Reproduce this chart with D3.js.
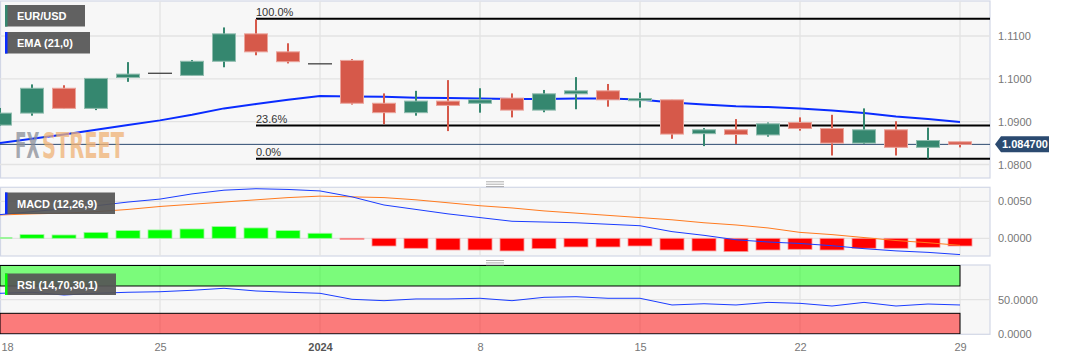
<!DOCTYPE html>
<html><head><meta charset="utf-8">
<script src="https://cdn.jsdelivr.net/npm/d3@7"></script>
<style>
html,body{margin:0;padding:0;background:#fff;}
svg{display:block;font-family:"Liberation Sans",Arial,sans-serif;}
</style></head>
<body><svg id="c" width="1067" height="360"></svg>
<script>
const dates = ["2023-12-18","2023-12-19","2023-12-20","2023-12-21","2023-12-22","2023-12-25","2023-12-26","2023-12-27","2023-12-28","2023-12-29",
"2024-01-01","2024-01-02","2024-01-03","2024-01-04","2024-01-05","2024-01-08","2024-01-09","2024-01-10","2024-01-11","2024-01-12",
"2024-01-15","2024-01-16","2024-01-17","2024-01-18","2024-01-19","2024-01-22","2024-01-23","2024-01-24","2024-01-25","2024-01-26","2024-01-29"];
const open  = [1.0892,1.0920,1.0978,1.0931,1.1003,1.1013,1.1008,1.1041,1.1105,1.1063,1.1035,1.1043,1.0943,1.0921,1.0948,1.0943,1.0955,1.0927,1.0965,1.0972,1.0949,1.0951,1.0872,1.0881,1.0869,1.0898,1.0884,1.0850,1.0881,1.0840,1.0853];
const high  = [1.0932,1.0987,1.0985,1.1001,1.1039,1.1013,1.1044,1.1120,1.1139,1.1083,1.1035,1.1046,1.0966,1.0972,1.0997,1.0978,1.0966,1.0974,1.1004,1.0988,1.0968,1.0951,1.0885,1.0906,1.0898,1.0910,1.0916,1.0931,1.0901,1.0886,1.0853];
const low   = [1.0890,1.0914,1.0930,1.0927,1.0993,1.1013,1.1008,1.1027,1.1055,1.1036,1.1035,1.0940,1.0894,1.0914,1.0878,1.0921,1.0910,1.0922,1.0929,1.0935,1.0933,1.0860,1.0843,1.0848,1.0865,1.0879,1.0821,1.0848,1.0821,1.0814,1.0840];
const close = [1.0920,1.0978,1.0931,1.1001,1.1011,1.1013,1.1041,1.1105,1.1063,1.1040,1.1035,1.0943,1.0921,1.0948,1.0938,1.0951,1.0927,1.0965,1.0972,1.0951,1.0954,1.0871,1.0881,1.0870,1.0895,1.0884,1.0850,1.0881,1.0840,1.0856,1.0847];
const ema21 = [1.0850,1.0860,1.0870,1.0881,1.0892,1.0903,1.0916,1.0931,1.0941,1.0951,1.0960,1.0959,1.0958,1.0956,1.0955,1.0954,1.0953,1.0953,1.0954,1.0954,1.0952,1.0945,1.0940,1.0936,1.0934,1.0931,1.0926,1.0920,1.0912,1.0906,1.0899];
const macdLine = [0.0032,0.0036,0.0040,0.0044,0.0049,0.0053,0.0060,0.0065,0.0067,0.0066,0.0064,0.0056,0.0045,0.0039,0.0033,0.0028,0.0023,0.0022,0.0021,0.0019,0.0017,0.0009,0.0004,-0.0002,-0.0005,-0.0007,-0.0010,-0.0014,-0.0017,-0.0019,-0.0022];
const signalLine = [0.00315,0.0033,0.0034,0.0036,0.0039,0.0043,0.0046,0.0049,0.0052,0.0055,0.0057,0.0056,0.0055,0.0052,0.0048,0.0044,0.0041,0.0037,0.0034,0.0031,0.0028,0.0025,0.0021,0.0018,0.0014,0.0008,0.0005,0.0001,-0.0003,-0.0006,-0.00095];
const macdHist = [0.0001,0.0005,0.00045,0.0008,0.00104,0.00113,0.00126,0.00158,0.0014,0.00104,0.00068,-0.00014,-0.00104,-0.00135,-0.00158,-0.00158,-0.00171,-0.0014,-0.00117,-0.00117,-0.00104,-0.00158,-0.00171,-0.0018,-0.00158,-0.00149,-0.00158,-0.00135,-0.00135,-0.00122,-0.00104];
const rsi = [59.3,60.8,56.8,59.3,60.8,61.6,63.7,66.6,62.7,60.8,59.3,50.5,48.5,51,51,52,48.5,53.4,54.3,52,52,42.2,44,42.2,46,44.6,40.7,46,40.7,43.6,42.2];
const xTickDates = ["2023-12-18","2023-12-25","2024-01-01","2024-01-08","2024-01-15","2024-01-22","2024-01-29"];
const xTickLabels = ["18","25","2024","8","15","22","29"];
const priceTicks = [1.08,1.09,1.10,1.11];
const macdTicks = [0,0.005];
const rsiTicks = [0,50];
const fibLevels = [1.1140,1.0891,1.08135];
const fibLabels = ["100.0%","23.6%","0.0%"];
const fibStart = "2023-12-28";
const lastPrice = 1.0847;
const legends = ["EUR/USD","EMA (21,0)","MACD (12,26,9)","RSI (14,70,30,1)"];

const svg = d3.select("#c");
const W = 990;
const x = d3.scalePoint().domain(dates).range([0,960]);
const yP = d3.scaleLinear().domain([1.08,1.11]).range([164.5,36]);
const yM = d3.scaleLinear().domain([0,0.005]).range([238.3,201.3]);
const yR = d3.scaleLinear().domain([0,100]).range([333.8,265.5]);

const panels = [
  {id:"p0", top:1, bottom:178},
  {id:"p1", top:187.3, bottom:256},
  {id:"p2", top:265, bottom:334.3}
];
const defs = svg.append("defs");
panels.forEach(p=>{
  defs.append("clipPath").attr("id","clip-"+p.id).append("rect")
    .attr("x",0).attr("y",p.top).attr("width",W).attr("height",p.bottom-p.top);
  svg.append("rect").attr("x",0.5).attr("y",p.top).attr("width",W-0.5).attr("height",p.bottom-p.top)
    .attr("fill","#f7f7f7").attr("stroke","#d2d7e6").attr("stroke-width",1.2);
});
const gMain = svg.append("g").attr("clip-path","url(#clip-p0)");
const gMacd = svg.append("g").attr("clip-path","url(#clip-p1)");
const gRsi = svg.append("g").attr("clip-path","url(#clip-p2)");

// vertical gridlines
[[gMain,panels[0]],[gMacd,panels[1]],[gRsi,panels[2]]].forEach(([g,p])=>{
  g.selectAll(".vg").data(xTickDates.slice(1)).enter().append("line")
   .attr("x1",d=>x(d)).attr("x2",d=>x(d)).attr("y1",p.top).attr("y2",p.bottom)
   .attr("stroke","#e3e3e3").attr("stroke-width",1.3);
});
// horizontal gridlines
gMain.selectAll(".hg").data(priceTicks).enter().append("line")
  .attr("x1",0).attr("x2",W).attr("y1",d=>yP(d)).attr("y2",d=>yP(d)).attr("stroke","#e3e3e3").attr("stroke-width",1.3);
gMacd.selectAll(".hg").data(macdTicks).enter().append("line")
  .attr("x1",0).attr("x2",W).attr("y1",d=>yM(d)).attr("y2",d=>yM(d)).attr("stroke","#e3e3e3").attr("stroke-width",1.3);
gRsi.selectAll(".hg").data([50]).enter().append("line")
  .attr("x1",0).attr("x2",W).attr("y1",d=>yR(d)).attr("y2",d=>yR(d)).attr("stroke","#e3e3e3").attr("stroke-width",1.3);

// watermark: two words scaled into place
function wmWord(txt, fill, x0, x1){
  const t = svg.append("text").attr("x",0).attr("y",0).attr("font-size",36).attr("font-weight","bold")
    .attr("font-family","'DejaVu Sans Condensed','DejaVu Sans',sans-serif").attr("fill",fill).attr("opacity",0.75).text(txt);
  const w = t.node().getComputedTextLength();
  t.attr("transform",`translate(${x0},158) scale(${(x1-x0)/w},1)`);
}
wmWord("FX","#8a8e98",15,39.5);
wmWord("STREET","#f0b275",42,124);

// fib lines
gMain.selectAll(".fib").data(fibLevels).enter().append("line")
  .attr("x1",x(fibStart)).attr("x2",W).attr("y1",d=>yP(d)).attr("y2",d=>yP(d))
  .attr("stroke","#000").attr("stroke-width",2);
svg.selectAll(".fibt").data(fibLevels).enter().append("text")
  .attr("x",x(fibStart)).attr("y",d=>yP(d)-3).attr("font-size",11).attr("fill","#333")
  .text((d,i)=>fibLabels[i]);

// last price line
gMain.append("line").attr("x1",0).attr("x2",W).attr("y1",yP(lastPrice)).attr("y2",yP(lastPrice))
  .attr("stroke","#2b4a70").attr("stroke-width",1);

// EMA
gMain.append("path").datum(ema21).attr("fill","none").attr("stroke","#0a2cff").attr("stroke-width",2)
  .attr("d",d3.line().x((d,i)=>x(dates[i])).y(d=>yP(d)));

// candles
const green="#35876f", red="#d6594a";
const cg = gMain.selectAll(".cdl").data(dates).enter().append("g");
cg.each(function(d,i){
  const g=d3.select(this), cx=x(d);
  const o=open[i],c=close[i],h=high[i],l=low[i];
  if(o===c && h===l){
    g.append("line").attr("x1",cx-12).attr("x2",cx+12).attr("y1",yP(o)).attr("y2",yP(o)).attr("stroke","#333").attr("stroke-width",1.2);
    return;
  }
  const col = c>=o?green:red;
  const lite = c>=o?"#8fbcae":"#eba39a";
  g.append("rect").attr("x",cx-1).attr("width",2).attr("y",yP(h)).attr("height",Math.max(1,yP(l)-yP(h))).attr("fill",col);
  const top=yP(Math.max(o,c)), bot=yP(Math.min(o,c));
  g.append("rect").attr("x",cx-11.5).attr("width",23).attr("y",top).attr("height",Math.max(2,bot-top))
    .attr("fill",col).attr("stroke",lite).attr("stroke-width",1);
});

// MACD histogram
gMacd.selectAll(".hb").data(macdHist).enter().append("rect")
  .attr("x",(d,i)=>x(dates[i])-12).attr("width",24)
  .attr("y",d=>Math.min(yM(d),yM(0))).attr("height",d=>Math.max(0.8,Math.abs(yM(d)-yM(0))))
  .attr("fill",d=>d>=0?"#00ff00":"#ff0000").attr("stroke",d=>d>=0?"#9ff59f":"#f89a9a").attr("stroke-width",0.8);
gMacd.append("path").datum(signalLine).attr("fill","none").attr("stroke","#ff7a1f").attr("stroke-width",1)
  .attr("d",d3.line().x((d,i)=>x(dates[i])).y(d=>yM(d)));
gMacd.append("path").datum(macdLine).attr("fill","none").attr("stroke","#1a3cff").attr("stroke-width",1)
  .attr("d",d3.line().x((d,i)=>x(dates[i])).y(d=>yM(d)));

// RSI bands
const xLast = x(dates[dates.length-1]);
gRsi.append("rect").attr("x",0).attr("width",xLast).attr("y",yR(100)).attr("height",yR(70)-yR(100))
  .attr("fill","#00ff00").attr("fill-opacity",0.5).attr("stroke","#000").attr("stroke-width",1);
gRsi.append("rect").attr("x",0).attr("width",xLast).attr("y",yR(30)).attr("height",yR(0)-yR(30))
  .attr("fill","#ff0000").attr("fill-opacity",0.5).attr("stroke","#000").attr("stroke-width",1);
gRsi.append("path").datum(rsi).attr("fill","none").attr("stroke","#1a3cff").attr("stroke-width",1)
  .attr("d",d3.line().x((d,i)=>x(dates[i])).y(d=>yR(d)));

// axes
function styleAxis(g){ g.select(".domain").remove(); g.selectAll("text").attr("fill","#777").attr("font-size",11).attr("font-family","'Liberation Sans',Arial,sans-serif"); }
svg.append("g").attr("transform",`translate(${W},0)`)
  .call(d3.axisRight(yP).tickValues(priceTicks).tickFormat(d3.format(".4f")).tickSize(0).tickPadding(8)).call(styleAxis);
svg.append("g").attr("transform",`translate(${W},0)`)
  .call(d3.axisRight(yM).tickValues(macdTicks).tickFormat(d3.format(".4f")).tickSize(0).tickPadding(8)).call(styleAxis);
svg.append("g").attr("transform",`translate(${W},0)`)
  .call(d3.axisRight(yR).tickValues(rsiTicks).tickFormat(d3.format(".4f")).tickSize(0).tickPadding(8)).call(styleAxis);
const xa = svg.append("g").attr("transform","translate(0,337)")
  .call(d3.axisBottom(x).tickValues(xTickDates).tickFormat((d,i)=>xTickLabels[i]).tickSize(0).tickPadding(6)).call(styleAxis);
xa.selectAll("text").filter(d=>d===xTickDates[0]).attr("text-anchor","start").attr("x",1);
xa.selectAll("text").filter(d=>d==="2024-01-01").attr("font-weight","bold").attr("fill","#555");

// last price tag
const ly = yP(lastPrice);
svg.append("path").attr("d",`M995,${ly} L1001,${ly-8} L1049,${ly-8} L1049,${ly+8} L1001,${ly+8} Z`).attr("fill","#2b4a70");
svg.append("text").attr("x",1002).attr("y",ly+4).attr("font-size",11).attr("font-weight","bold").attr("fill","#fff")
  .text(d3.format(".6f")(lastPrice));

// grips
[183.3,262].forEach(gy=>{
  [0,2,4].forEach(k=>svg.append("line").attr("x1",486).attr("x2",504).attr("y1",gy-1.5+k*1.2).attr("y2",gy-1.5+k*1.2).attr("stroke","#777").attr("stroke-width",0.6));
});

// legends
const legPos = [{y:5,w:80,c:"#35876f"},{y:32,w:85,c:"#0a2cff"},{y:192.5,w:110,c:"#0a2cff"},{y:273.5,w:111,c:"#00ff00"}];
legends.forEach((t,i)=>{
  const p=legPos[i];
  svg.append("rect").attr("x",5).attr("y",p.y).attr("width",p.w).attr("height",21.5).attr("fill","#555").attr("fill-opacity",0.93);
  svg.append("rect").attr("x",5).attr("y",p.y).attr("width",2.5).attr("height",21.5).attr("fill",p.c);
  svg.append("text").attr("x",17).attr("y",p.y+15).attr("font-size",11).attr("font-weight","bold").attr("fill","#fff").text(t);
});
</script></body></html>
